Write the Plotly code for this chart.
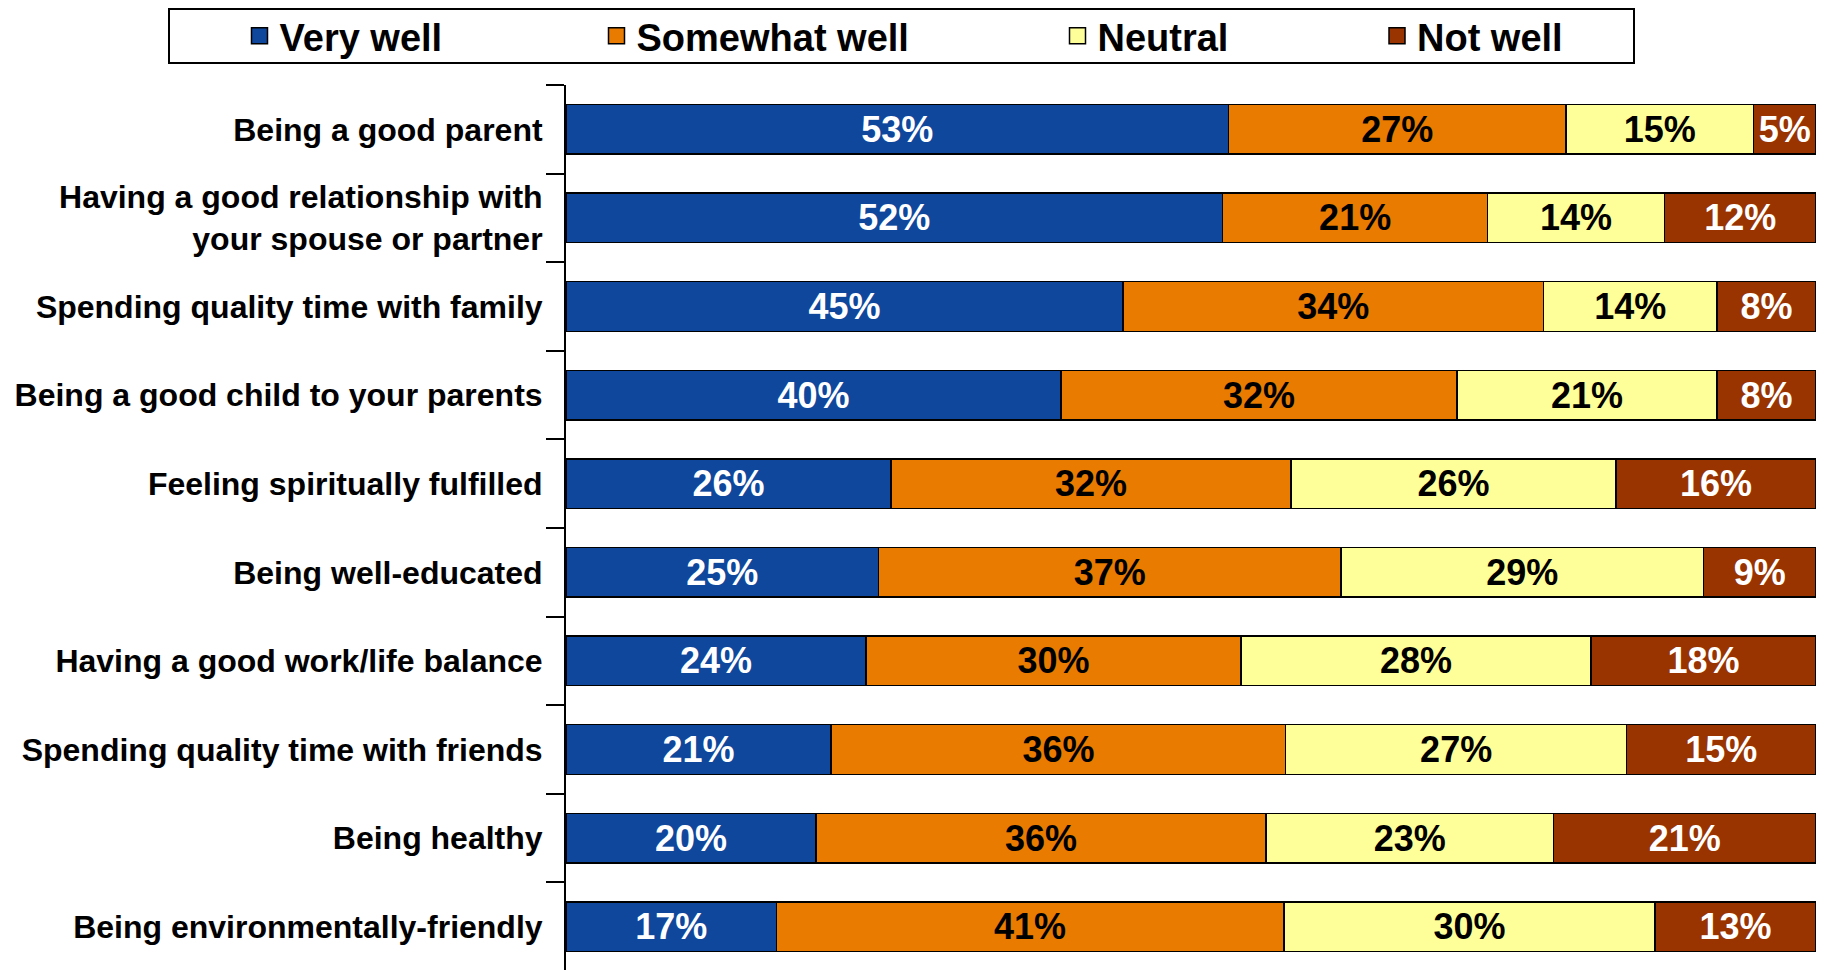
import plotly.graph_objects as go

categories = [
    "Being a good parent",
    "Having a good relationship with<br>your spouse or partner",
    "Spending quality time with family",
    "Being a good child to your parents",
    "Feeling spiritually fulfilled",
    "Being well-educated",
    "Having a good work/life balance",
    "Spending quality time with friends",
    "Being healthy",
    "Being environmentally-friendly",
]
series_names = ["Very well", "Somewhat well", "Neutral", "Not well"]
very_well = [53, 52, 45, 40, 26, 25, 24, 21, 20, 17]
somewhat_well = [27, 21, 34, 32, 32, 37, 30, 36, 36, 41]
neutral = [15, 14, 14, 21, 26, 29, 28, 27, 23, 30]
not_well = [5, 12, 8, 8, 16, 9, 18, 15, 21, 13]

colors = ["#0F479D", "#E87B00", "#FFFF99", "#993300"]
text_colors = ["white", "black", "black", "white"]
legend_ids = ["legend", "legend2", "legend3", "legend4"]
legend_x = [-0.2612, 0.0244, 0.3932, 0.6488]

FONT = "Liberation Sans, Arial, sans-serif"

fig = go.Figure()
for name, vals, col, tcol in zip(series_names, [very_well, somewhat_well, neutral, not_well], colors, text_colors):
    fig.add_trace(go.Bar(
        y=categories, x=vals, orientation="h", name=name,
        marker=dict(color=col, line=dict(color="black", width=1.5)),
        text=vals, texttemplate="%{text}%", textposition="inside",
        insidetextanchor="middle",
        textfont=dict(family=FONT, size=36, color=tcol, weight="bold"),
        showlegend=False, hoverinfo="skip",
    ))

# legend entries
for name, col, lid in zip(series_names, colors, legend_ids):
    fig.add_trace(go.Scatter(
        x=[None], y=[None], mode="markers", name=name, legend=lid,
        marker=dict(symbol="square", size=16, color=col, line=dict(color="black", width=1.5)),
        showlegend=True, hoverinfo="skip",
    ))

legend_common = dict(
    orientation="h", yanchor="middle", y=1.0553, xanchor="left",
    bgcolor="rgba(0,0,0,0)", borderwidth=0, itemsizing="trace",
    font=dict(family=FONT, size=38, color="black", weight="bold"),
)
layout_legends = {}
for lid, lx in zip(legend_ids, legend_x):
    d = dict(legend_common)
    d["x"] = lx
    layout_legends[lid] = d

fig.update_layout(
    width=1827, height=970,
    margin=dict(l=558, r=19, t=77, b=7, autoexpand=False),
    paper_bgcolor="white", plot_bgcolor="white",
    barmode="stack", barnorm="percent", bargap=0.44,
    font=dict(family=FONT, color="black"),
    xaxis=dict(visible=False, range=[0, 100], fixedrange=True, automargin=False),
    yaxis=dict(
        autorange="reversed", showline=True, linecolor="black", linewidth=2,
        ticks="outside", ticklen=18, tickwidth=2, tickcolor="black",
        tickson="boundaries", showgrid=False, zeroline=False, automargin=False,
        ticklabelstandoff=15,
        tickfont=dict(family=FONT, size=32, color="black", weight="bold"),
    ),
    shapes=[dict(
        type="rect", xref="paper", yref="paper",
        x0=-0.3176, x1=0.8544, y0=1.0248, y1=1.0857,
        line=dict(color="black", width=2), fillcolor="rgba(0,0,0,0)", layer="below",
    )],
    **layout_legends,
)

fig.write_html("out.html")
